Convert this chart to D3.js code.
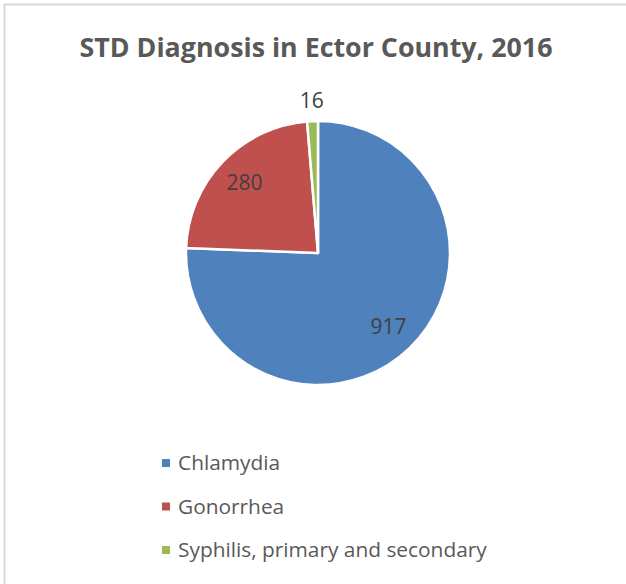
<!DOCTYPE html>
<html>
<head>
<meta charset="utf-8">
<script src="https://d3js.org/d3.v7.min.js"></script>
<style>
  body { margin: 0; background: #fff; }
  text { font-family: "Open Sans", "Noto Sans", sans-serif; }
</style>
</head>
<body>
<div id="chart"></div>
<script>
// data
var categories = ["Chlamydia", "Gonorrhea", "Syphilis, primary and secondary"];
var values = [917, 280, 16];
var colors = ["#4f81bd", "#c0504d", "#9bbb59"];

var width = 626, height = 584;
var cx = 318, cy = 253, radius = 132;

var svg = d3.select("#chart").append("svg")
    .attr("width", width)
    .attr("height", height);

// chart frame
svg.append("rect")
    .attr("x", 4.5).attr("y", 4.5)
    .attr("width", width + 20).attr("height", height + 20)
    .attr("fill", "none")
    .attr("stroke", "#d9d9d9")
    .attr("stroke-width", 2);

// title
var title = svg.append("text")
    .attr("x", 316)
    .attr("y", 57)
    .attr("text-anchor", "middle")
    .attr("fill", "#595959")
    .attr("font-weight", "bold")
    .attr("font-size", 24)
    .text("STD Diagnosis in Ector County, 2016");
// scale to match the width in the original
var tw = title.node().getComputedTextLength();
title.attr("font-size", 24 * 473 / tw);

var pie = d3.pie().sort(null).value(function(d) { return d; });
var arcs = pie(values);

var arc = d3.arc().innerRadius(0).outerRadius(radius);
var labelArc = d3.arc().innerRadius(radius * 0.77).outerRadius(radius * 0.77);
var outerArc = d3.arc().innerRadius(radius + 20).outerRadius(radius + 20);

var g = svg.append("g").attr("transform", "translate(" + cx + "," + cy + ")");

g.selectAll("path")
    .data(arcs)
    .enter()
    .append("path")
    .attr("d", arc)
    .attr("fill", function(d, i) { return colors[i]; })
    .attr("stroke", "#fff")
    .attr("stroke-width", 2.5)
    .attr("stroke-linejoin", "round");

g.selectAll(".lbl")
    .data(arcs)
    .enter()
    .append("text")
    .attr("class", "lbl")
    .attr("transform", function(d) {
        var small = (d.endAngle - d.startAngle) < 0.3;
        var c = small ? outerArc.centroid(d) : labelArc.centroid(d);
        return "translate(" + c[0] + "," + c[1] + ")";
    })
    .attr("dy", "0.35em")
    .attr("text-anchor", "middle")
    .attr("fill", "#404040")
    .attr("font-size", 21)
    .text(function(d) { return d.value; });

// legend
var legend = svg.append("g").attr("transform", "translate(162,463)");
var rows = legend.selectAll("g")
    .data(categories)
    .enter()
    .append("g")
    .attr("transform", function(d, i) { return "translate(0," + (i * 43.5) + ")"; });

rows.append("rect")
    .attr("x", 0).attr("y", -4)
    .attr("width", 8).attr("height", 8)
    .attr("fill", function(d, i) { return colors[i]; });

var ltext = rows.append("text")
    .attr("x", 16)
    .attr("dy", "0.35em")
    .attr("fill", "#595959")
    .attr("font-size", 18)
    .text(function(d) { return d; });
// fit the longest entry to the original width
var lw = ltext.nodes()[2].getComputedTextLength();
ltext.attr("font-size", 18 * 309 / lw);
</script>
</body>
</html>
